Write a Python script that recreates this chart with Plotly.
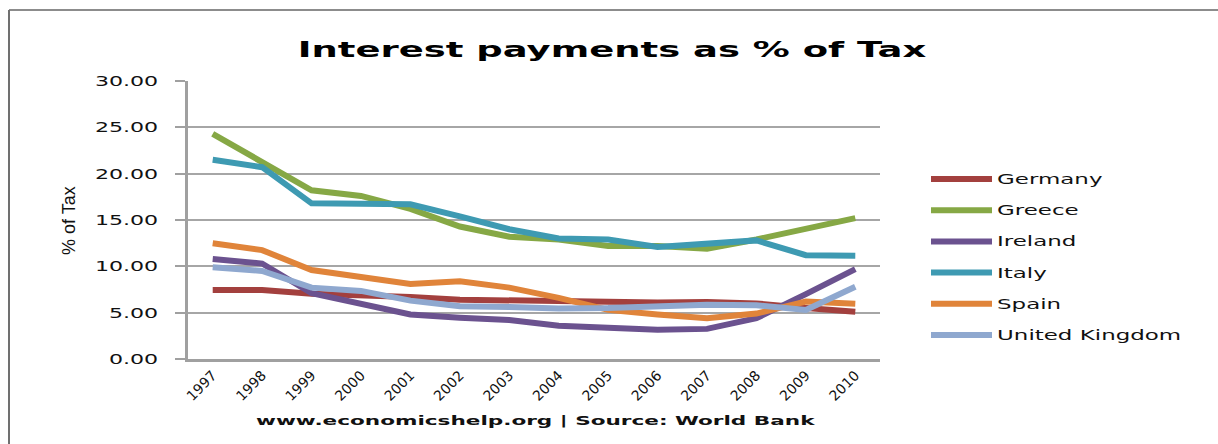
import plotly.graph_objects as go

# ---- data: interest payments as % of tax revenue ----
years = ["1997", "1998", "1999", "2000", "2001", "2002", "2003",
         "2004", "2005", "2006", "2007", "2008", "2009", "2010"]

germany = [7.45, 7.45, 7.05, 6.9, 6.7, 6.4, 6.3, 6.25, 6.1, 6.1, 6.15, 6.0, 5.5, 5.1]
greece = [24.3, 21.2, 18.2, 17.6, 16.2, 14.3, 13.2, 12.9, 12.2, 12.2, 11.9, 12.9, 14.0, 15.2]
ireland = [10.8, 10.3, 7.1, 6.0, 4.8, 4.45, 4.2, 3.6, 3.3, 3.15, 3.25, 4.4, 7.0, 9.7]
italy = [21.5, 20.7, 16.8, 16.8, 16.7, 15.4, 14.0, 13.0, 12.9, 12.1, 12.5, 12.8, 11.2, 11.15]
spain = [12.5, 11.75, 9.6, 8.85, 8.1, 8.4, 7.7, 6.6, 5.3, 4.8, 4.4, 4.9, 6.2, 5.95]
united_kingdom = [9.9, 9.5, 7.7, 7.35, 6.3, 5.7, 5.6, 5.45, 5.5, 5.7, 5.85, 5.8, 5.3, 7.8]

series_names = ["Germany", "Greece", "Ireland", "Italy", "Spain", "United Kingdom"]
series_values = [germany, greece, ireland, italy, spain, united_kingdom]
series_colors = ["#A3403E", "#86A845", "#6B528F", "#3E9AB2", "#E0843A", "#8FA8CF"]

y_ticks = [0, 5, 10, 15, 20, 25, 30]

chart_title = "Interest payments as % of Tax"
y_title = "% of Tax"
footer = "www.economicshelp.org | Source: World Bank"

# ---- page geometry (pixels) ----
W, H = 1218, 444
PL, PR, PT, PB = 188, 880, 81, 359
GRID = "#A6A6A6"
AXIS = "#A0A0A0"


def fx(px):
    return (px - PL) / (PR - PL)


def fy(py):
    return (PB - py) / (PB - PT)


fig = go.Figure()
for name, vals, col in zip(series_names, series_values, series_colors):
    fig.add_trace(go.Scatter(
        x=years, y=vals, name=name, mode="lines",
        line=dict(color=col, width=6), showlegend=False,
    ))

shapes = [
    # frame lines along the top and left edge
    dict(type="line", xref="paper", yref="paper", x0=fx(9), x1=fx(W + 5), y0=fy(10), y1=fy(10),
         line=dict(color="#8C8C8C", width=2)),
    dict(type="line", xref="paper", yref="paper", x0=fx(9), x1=fx(9), y0=fy(10), y1=fy(H + 5),
         line=dict(color="#707070", width=2)),
]
annotations = [
    dict(text=footer, xref="paper", yref="paper", x=fx(535), y=fy(420),
         xanchor="center", yanchor="middle", showarrow=False,
         font=dict(family="DejaVu Sans", size=13, color="#111111", weight="bold")),
]

# legend: one line sample and label per series
LEG_Y0, LEG_DY = 179, 31.2
for i, (name, col) in enumerate(zip(series_names, series_colors)):
    yy = fy(LEG_Y0 + i * LEG_DY)
    shapes.append(dict(type="line", xref="paper", yref="paper",
                       x0=fx(931), x1=fx(992), y0=yy, y1=yy,
                       line=dict(color=col, width=6)))
    annotations.append(dict(text=name, xref="paper", yref="paper", x=fx(995), y=yy,
                            xanchor="left", yanchor="middle", showarrow=False,
                            font=dict(family="DejaVu Sans", size=14, color="#111111")))

annotations.append(dict(text=y_title, xref="paper", yref="paper", x=fx(69), y=fy(220),
                        xanchor="center", yanchor="middle", textangle=-90, showarrow=False,
                        font=dict(family="Liberation Sans Narrow, Liberation Sans", size=18,
                                  color="#111111")))

fig.update_layout(
    width=W, height=H,
    margin=dict(l=PL, r=W - PR, t=PT, b=H - PB, pad=0),
    paper_bgcolor="white", plot_bgcolor="white",
    title=dict(text=chart_title, x=612 / W, xanchor="center", y=1 - 49 / H, yanchor="middle",
               xref="container", yref="container",
               font=dict(family="DejaVu Sans", size=22, color="#000000", weight="bold")),
    shapes=shapes,
    annotations=annotations,
    xaxis=dict(type="category", range=[-0.5, len(years) - 0.5], showgrid=False,
               showline=True, linecolor=AXIS, linewidth=2.5, ticks="",
               tickangle=-45, tickfont=dict(family="DejaVu Sans", size=14, color="#111111"),
               zeroline=False, fixedrange=True),
    yaxis=dict(range=[0, 30], tickvals=y_ticks, tickformat=".2f",
               showgrid=True, gridcolor=GRID, gridwidth=1.5,
               showline=True, linecolor=AXIS, linewidth=3,
               ticks="outside", ticklen=10, tickwidth=2, tickcolor=AXIS,
               ticklabelstandoff=14,
               tickfont=dict(family="DejaVu Sans", size=14, color="#111111"),
               zeroline=False, fixedrange=True),
)

# widen the text horizontally, as in the original exported chart;
# the scale is appended to each element's own transform so its position is kept
post = """
var gd = document.getElementById('{plot_id}');
function stretch(nodes, sx, where) {
  nodes.forEach(function(t) {
    var b = t.getBBox();
    var ox = where === 'left' ? b.x : (where === 'right' ? b.x + b.width : b.x + b.width / 2);
    var prev = t.getAttribute('transform') || '';
    t.setAttribute('transform', prev + ' translate(' + ox + ',0) scale(' + sx + ',1) translate(' + (-ox) + ',0)');
  });
}
stretch(gd.querySelectorAll('.gtitle'), 1.68, 'center');
stretch(gd.querySelectorAll('.ytick text'), 1.58, 'right');
gd.querySelectorAll('.annotation').forEach(function(a) {
  var idx = +a.getAttribute('data-index');
  var t = a.querySelectorAll('text');
  if (idx === 0) stretch(t, 1.66, 'center');
  else if (idx >= 1 && idx <= 6) stretch(t, 1.64, 'left');
});
"""

fig.write_html("out.html", post_script=post, config={"displayModeBar": False})
